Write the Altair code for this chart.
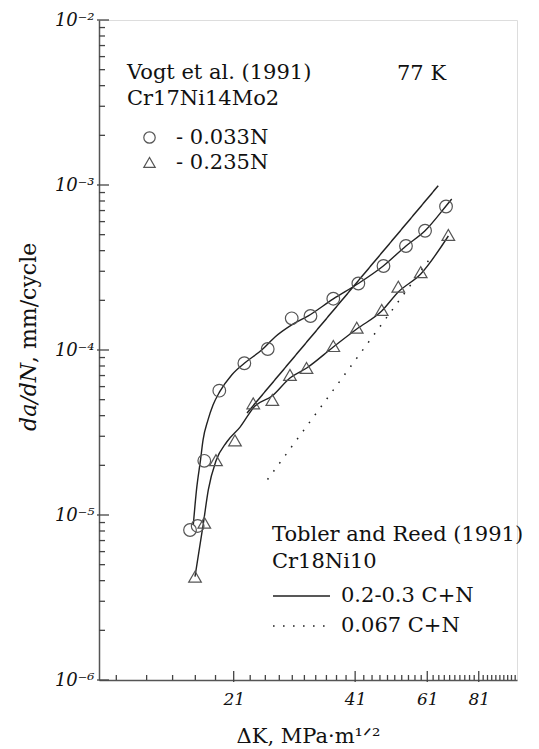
import altair as alt
import pandas as pd

# ---------------- data ----------------
# Vogt et al. (1991), Cr17Ni14Mo2 - 0.033N (circles)
circ_dk = [16.51, 17.22, 17.86, 19.40, 22.27, 25.33, 28.91, 32.06, 36.35, 41.73, 47.93, 54.25, 60.26, 67.64]
circ_rate = [8.11e-6, 8.58e-6, 2.13e-5, 5.67e-5, 8.31e-5, 1.014e-4, 1.556e-4, 1.607e-4, 2.046e-4, 2.53e-4,
             3.23e-4, 4.27e-4, 5.28e-4, 7.41e-4]
# Vogt et al. (1991), Cr17Ni14Mo2 - 0.235N (triangles)
tri_dk = [16.97, 17.86, 19.05, 21.15, 23.39, 25.98, 28.63, 31.36, 36.35, 41.36, 47.46, 52.00, 58.84, 68.50]
tri_rate = [4.23e-6, 8.98e-6, 2.15e-5, 2.83e-5, 4.75e-5, 4.98e-5, 7.06e-5, 7.78e-5, 1.057e-4, 1.365e-4,
            1.748e-4, 2.42e-4, 2.96e-4, 4.98e-4]
# hand-drawn fit curves
circ_fit_dk = [16.81, 17.11, 17.49, 17.74, 18.23, 18.74, 19.43, 20.77, 22.27, 24.50, 26.37, 28.91, 31.67,
               36.35, 41.73, 47.87, 54.25, 60.26, 67.64, 69.79]
circ_fit_rate = [8.70e-6, 1.42e-5, 2.15e-5, 2.85e-5, 3.77e-5, 4.64e-5, 5.57e-5, 7.06e-5, 8.31e-5, 1.00e-4,
                 1.20e-4, 1.42e-4, 1.61e-4, 2.04e-4, 2.53e-4, 3.23e-4, 4.27e-4, 5.28e-4, 7.46e-4, 8.23e-4]
tri_fit_dk = [16.97, 17.77, 18.26, 19.05, 20.21, 21.75, 23.61, 25.94, 28.63, 31.40, 36.35, 41.36, 47.46,
              52.00, 58.84, 68.50]
tri_fit_rate = [4.23e-6, 8.91e-6, 1.42e-5, 2.13e-5, 2.77e-5, 3.41e-5, 4.58e-5, 5.26e-5, 6.77e-5, 7.78e-5,
                1.043e-4, 1.34e-4, 1.723e-4, 2.247e-4, 2.888e-4, 4.909e-4]
# Tobler and Reed (1991), Cr18Ni10
solid_dk = [22.6, 64.8]
solid_rate = [4.15e-5, 9.9e-4]
dot_dk = [25.3, 62.6]
dot_rate = [1.64e-5, 3.72e-4]

vogt_names = ["- 0.033N", "- 0.235N"]
tobler_names = ["0.2-0.3 C+N", "0.067 C+N"]

x_tick_labels = [21, 41, 61, 81]
x_minor = [v for v in range(11, 100, 2) if v not in x_tick_labels]
y_major = [1e-6, 1e-5, 1e-4, 1e-3, 1e-2]
y_minor = [m * 10.0 ** e for e in range(-6, -2) for m in range(2, 10)]

# ---------------- chart ----------------
SERIF = "DejaVu Serif"
INK = "#111111"
AX = "#555555"
TICK = "#444444"

xs = alt.Scale(type="log", domain=[10, 100], nice=False)
ys = alt.Scale(type="log", domain=[1e-6, 1e-2], nice=False)

x_axis = alt.Axis(values=x_tick_labels, ticks=False, grid=False, domainColor=AX, domainWidth=1.5,
                  labelFont=SERIF, labelFontStyle="italic", labelFontSize=17, labelColor=INK,
                  labelPadding=11, labelFlush=False, labelOverlap=False,
                  title="ΔK, MPa·m¹ᐟ²", titleFont=SERIF, titleFontSize=21, titleFontWeight="normal",
                  titleColor=INK, titlePadding=18)
y_axis = alt.Axis(values=y_major, ticks=False, grid=False, domainColor=AX, domainWidth=1.5,
                  labelExpr="'10' + ['⁻⁶','⁻⁵','⁻⁴','⁻³','⁻²'][round(log(datum.value)/LN10) + 6]",
                  labelFont=SERIF, labelFontStyle="italic", labelFontSize=18, labelColor=INK,
                  labelPadding=5, labelFlush=False, labelOverlap=False, title=None)


def X():
    return alt.X("x:Q", scale=xs, axis=x_axis)


def Y():
    return alt.Y("y:Q", scale=ys, axis=y_axis)


pts = pd.DataFrame({
    "x": circ_dk + tri_dk,
    "y": circ_rate + tri_rate,
    "series": [vogt_names[0]] * len(circ_dk) + [vogt_names[1]] * len(tri_dk),
})
fits = pd.DataFrame({
    "x": circ_fit_dk + tri_fit_dk,
    "y": circ_fit_rate + tri_fit_rate,
    "curve": ["c"] * len(circ_fit_dk) + ["t"] * len(tri_fit_dk),
})
tob = pd.DataFrame({
    "x": solid_dk + dot_dk,
    "y": solid_rate + dot_rate,
    "name": [tobler_names[0]] * 2 + [tobler_names[1]] * 2,
})

fit_layer = alt.Chart(fits).mark_line(color="#222222", strokeWidth=1.4, interpolate="monotone").encode(
    x=X(), y=Y(), detail="curve:N")

tob_layer = alt.Chart(tob).mark_line(color="#222222", strokeWidth=1.5).encode(
    x=X(), y=Y(),
    strokeDash=alt.StrokeDash(
        "name:N",
        scale=alt.Scale(domain=tobler_names, range=[[1, 0], [1.6, 8.4]]),
        legend=alt.Legend(
            title=["Tobler and Reed (1991)", "Cr18Ni10"], orient="none", legendX=173, legendY=504,
            padding=0, titleFont=SERIF, titleFontSize=21, titleFontWeight="normal", titleColor=INK,
            titleLineHeight=27, titlePadding=12, titleLimit=400,
            labelFont=SERIF, labelFontSize=21, labelColor=INK, labelOffset=10, labelLimit=300,
            symbolType="stroke", symbolSize=3249, symbolStrokeWidth=1.5, symbolStrokeColor="#222222",
            clipHeight=24, rowPadding=6)),
)

pt_layer = alt.Chart(pts).mark_point(filled=False, size=160, color="#555555", strokeWidth=1.2, opacity=1).encode(
    x=X(), y=Y(),
    shape=alt.Shape(
        "series:N",
        scale=alt.Scale(domain=vogt_names, range=["circle", "triangle-up"]),
        legend=alt.Legend(
            title=["Vogt et al. (1991)", "Cr17Ni14Mo2"], orient="none", legendX=28, legendY=42,
            padding=0, titleFont=SERIF, titleFontSize=21, titleFontWeight="normal", titleColor=INK,
            titleLineHeight=26, titlePadding=18, titleLimit=400,
            labelFont=SERIF, labelFontSize=21, labelColor=INK, labelOffset=16, labelLimit=300,
            symbolOffset=12, symbolSize=130, symbolStrokeWidth=1.2, symbolStrokeColor="#555555",
            symbolFillColor="transparent", rowPadding=3)),
)

# inward axis ticks, drawn from the tick value lists
xt_minor = alt.Chart(pd.DataFrame({"x": x_minor, "y": [1e-6] * len(x_minor)})).mark_rule(
    color=TICK, strokeWidth=1.3, y2Offset=-5).encode(x=X(), y=Y(), y2=alt.Y2("y"))
xt_major = alt.Chart(pd.DataFrame({"x": x_tick_labels, "y": [1e-6] * len(x_tick_labels)})).mark_rule(
    color=TICK, strokeWidth=1.3, yOffset=2, y2Offset=-9).encode(x=X(), y=Y(), y2=alt.Y2("y"))
yt_minor = alt.Chart(pd.DataFrame({"x": [10] * len(y_minor), "y": y_minor})).mark_rule(
    color=TICK, strokeWidth=1.3, x2Offset=6).encode(x=X(), x2=alt.X2("x"), y=Y())
yt_major = alt.Chart(pd.DataFrame({"x": [10] * len(y_major), "y": y_major})).mark_rule(
    color=TICK, strokeWidth=1.3, xOffset=-2, x2Offset=10).encode(x=X(), x2=alt.X2("x"), y=Y())

temp = alt.Chart(pd.DataFrame({"t": ["77 K"]})).mark_text(
    align="left", baseline="alphabetic", font=SERIF, fontSize=21, color=INK).encode(
    x=alt.value(298), y=alt.value(60), text="t:N")

# y-axis title: italic "da/dN" followed by upright ", mm/cycle"
ytitle_a = alt.Chart(pd.DataFrame({"t": ["da/dN"]})).mark_text(
    align="right", baseline="alphabetic", angle=270, font=SERIF, fontSize=22, fontStyle="italic",
    color=INK).encode(x=alt.value(-63), y=alt.value(343), text="t:N")
ytitle_b = alt.Chart(pd.DataFrame({"t": [", mm/cycle"]})).mark_text(
    align="left", baseline="alphabetic", angle=270, font=SERIF, fontSize=22,
    color=INK).encode(x=alt.value(-63), y=alt.value(343), text="t:N")

chart = alt.layer(
    xt_minor, xt_major, yt_minor, yt_major, fit_layer, tob_layer, pt_layer, temp, ytitle_a, ytitle_b
).properties(
    width=418, height=660,
    autosize=alt.AutoSizeParams(type="none"),
    padding={"left": 99, "top": 20, "right": 22, "bottom": 69},
).configure_view(stroke=None).configure(background="white")

chart.save("out.html", embed_options={"renderer": "svg", "actions": False})
